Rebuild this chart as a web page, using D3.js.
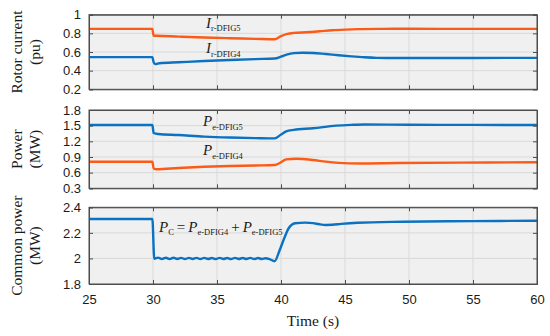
<!DOCTYPE html>
<html>
<head>
<meta charset="utf-8">
<script src="https://cdn.jsdelivr.net/npm/d3@7"></script>
<style>
  body { margin: 0; background: #fff; }
  svg { display: block; }
</style>
</head>
<body>
<div id="chart"></div>
<script>
// ---- data ----
var timeTicks = [25, 30, 35, 40, 45, 50, 55, 60];

// panel 1: rotor current (pu)
var rotorTicks = [0.2, 0.4, 0.6, 0.8, 1];
var irT5 = [25, 29.95, 30.05, 30.3, 32, 34, 36, 38, 39.5, 40, 40.5, 41, 42, 43, 44, 45, 46, 48, 50, 55, 60];
var ir5 = [0.848, 0.848, 0.775, 0.775, 0.765, 0.755, 0.748, 0.741, 0.736, 0.77, 0.795, 0.805, 0.812, 0.822, 0.833, 0.84, 0.845, 0.848, 0.849, 0.848, 0.848];
var irT4 = [25, 29.95, 30.05, 30.2, 30.5, 32, 34, 36, 38, 39.5, 40, 40.5, 41, 41.7, 42.5, 43.5, 44.5, 45.5, 46.5, 47.5, 49, 55, 60];
var ir4 = [0.545, 0.545, 0.49, 0.47, 0.48, 0.49, 0.503, 0.514, 0.524, 0.53, 0.55, 0.575, 0.588, 0.592, 0.59, 0.578, 0.565, 0.553, 0.543, 0.537, 0.535, 0.536, 0.537];

// panel 2: power (MW)
var powerTicks = [0.3, 0.6, 0.9, 1.2, 1.5, 1.8];
var peT5 = [25, 29.95, 30.05, 30.4, 32, 34, 36, 38, 39.5, 40, 40.4, 41, 42.5, 44.3, 45.5, 46.5, 50, 55, 60];
var pe5 = [1.512, 1.512, 1.36, 1.34, 1.32, 1.29, 1.272, 1.262, 1.256, 1.33, 1.39, 1.42, 1.45, 1.5, 1.515, 1.522, 1.517, 1.515, 1.513];
var peT4 = [25, 29.95, 30.05, 30.3, 32, 34, 36, 38, 39.5, 40, 40.4, 41.2, 42.5, 43.5, 44.5, 46.2, 49, 54, 60];
var pe4 = [0.81, 0.81, 0.68, 0.665, 0.69, 0.713, 0.728, 0.738, 0.745, 0.8, 0.855, 0.867, 0.842, 0.81, 0.788, 0.775, 0.785, 0.792, 0.8];

// panel 3: common power (MW)
var commonTicks = [1.8, 2, 2.2, 2.4];
var pcT = [25, 29.95, 30.1, 30.4, 30.7, 31.0, 31.3, 31.6, 31.9, 32.2, 32.5, 32.8, 33.1, 33.4, 33.7, 34.0, 34.3, 34.6, 34.9, 35.2, 35.5, 35.8, 36.1, 36.4, 36.7, 37.0, 37.3, 37.6, 37.9, 38.2, 38.5, 38.8, 39.1, 39.5, 39.9, 40.3, 40.6, 41.1, 41.9, 42.5, 43, 43.5, 44, 44.7, 46, 49.5, 55, 60];
var pc = [2.308, 2.308, 1.998, 2.006, 1.996, 2.005, 1.995, 2.005, 1.996, 2.004, 1.995, 2.004, 1.996, 2.004, 1.995, 2.004, 1.996, 2.003, 1.995, 2.004, 1.996, 2.003, 1.995, 2.004, 1.996, 2.003, 1.996, 2.004, 1.995, 2.003, 1.996, 2.002, 1.995, 1.978, 2.066, 2.17, 2.236, 2.275, 2.28, 2.276, 2.267, 2.262, 2.263, 2.27, 2.279, 2.287, 2.292, 2.295];

var blue = "#0b72c1", orange = "#fc5a17";
var serif = "'Liberation Serif', 'Times New Roman', serif";

var svg = d3.select("#chart").append("svg")
  .attr("width", 550).attr("height", 336)
  .style("font-family", "'Liberation Sans', Arial, sans-serif");

var left = 89, right = 537;
var x = d3.scaleLinear().domain([25, 60]).range([left, right]);

function panel(top, bottom, yTicks, series, label1, label2, showX, id) {
  var y = d3.scaleLinear().domain([yTicks[0], yTicks[yTicks.length - 1]]).range([bottom, top]);
  var g = svg.append("g");

  g.append("rect").attr("x", left).attr("y", top)
    .attr("width", right - left).attr("height", bottom - top)
    .attr("fill", "#f0f0f0");

  // grid
  g.selectAll(".gx").data(timeTicks.slice(1, -1)).enter().append("line")
    .attr("x1", d => x(d)).attr("x2", d => x(d))
    .attr("y1", top).attr("y2", bottom)
    .attr("stroke", "#d9d9d9").attr("stroke-width", 1);
  g.selectAll(".gy").data(yTicks.slice(1, -1)).enter().append("line")
    .attr("x1", left).attr("x2", right)
    .attr("y1", d => y(d)).attr("y2", d => y(d))
    .attr("stroke", "#d9d9d9").attr("stroke-width", 1);

  // clip + lines
  g.append("clipPath").attr("id", id).append("rect")
    .attr("x", left).attr("y", top).attr("width", right - left).attr("height", bottom - top);
  series.forEach(function(s) {
    var pts = s.t.map((t, i) => [t, s.v[i]]);
    g.append("path").datum(pts)
      .attr("clip-path", "url(#" + id + ")")
      .attr("fill", "none").attr("stroke", s.color).attr("stroke-width", 2.4)
      .attr("stroke-linejoin", "round")
      .attr("d", d3.line().curve(d3.curveMonotoneX).x(d => x(d[0])).y(d => y(d[1])));
  });

  // axes (ticks inward on all sides)
  g.append("g").attr("transform", "translate(" + left + ",0)")
    .call(d3.axisLeft(y).tickValues(yTicks).tickSize(-4).tickPadding(8).tickFormat(d3.format("")));
  g.append("g").attr("transform", "translate(" + right + ",0)")
    .call(d3.axisRight(y).tickValues(yTicks).tickSize(-4).tickFormat(""));
  g.append("g").attr("transform", "translate(0," + top + ")")
    .call(d3.axisTop(x).tickValues(timeTicks).tickSize(-4).tickFormat(""));
  g.append("g").attr("transform", "translate(0," + bottom + ")")
    .call(d3.axisBottom(x).tickValues(timeTicks).tickSize(-4).tickPadding(11)
      .tickFormat(showX ? d3.format("") : ""));
  g.selectAll(".domain").attr("stroke", "#4d4d4d");
  g.selectAll(".tick line").attr("stroke", "#4d4d4d");
  g.selectAll(".tick text").attr("fill", "#1a1a1a").style("font-size", "13px")
    .style("font-family", "'Liberation Sans', Arial, sans-serif");

  // border
  g.append("rect").attr("x", left).attr("y", top)
    .attr("width", right - left).attr("height", bottom - top)
    .attr("fill", "none").attr("stroke", "#4d4d4d").attr("stroke-width", 1);

  var cy = (top + bottom) / 2;
  g.append("text").attr("transform", "translate(22," + cy + ") rotate(-90)")
    .attr("text-anchor", "middle")
    .style("font-family", serif).style("font-size", "15.5px")
    .attr("fill", "#1a1a1a").text(label1);
  g.append("text").attr("transform", "translate(40," + cy + ") rotate(-90)")
    .attr("text-anchor", "middle")
    .style("font-family", serif).style("font-size", "15.5px")
    .attr("fill", "#1a1a1a").text(label2);
  return y;
}

panel(14.7, 89.3, rotorTicks,
  [{ t: irT5, v: ir5, color: orange }, { t: irT4, v: ir4, color: blue }],
  "Rotor current", "(pu)", false, "c1");
panel(110, 188.3, powerTicks,
  [{ t: peT5, v: pe5, color: blue }, { t: peT4, v: pe4, color: orange }],
  "Power", "(MW)", false, "c2");
panel(207.3, 284, commonTicks,
  [{ t: pcT, v: pc, color: blue }],
  "Common power", "(MW)", true, "c3");

// x label
svg.append("text").attr("x", 313).attr("y", 326).attr("text-anchor", "middle")
  .style("font-family", serif).style("font-size", "15.5px")
  .attr("fill", "#1a1a1a").text("Time (s)");

// annotations: italic symbol + small subscript
function annot(px, py, parts) {
  var t = svg.append("text").attr("x", px).attr("y", py)
    .style("font-family", serif).attr("fill", "#1a1a1a");
  parts.forEach(function(p) {
    var s = t.append("tspan").text(p.text);
    if (p.sub) s.style("font-size", "8.5px").attr("dy", 3.8);
    else s.style("font-size", "15px").attr("dy", p.after ? -3.8 : 0);
    if (p.italic) s.style("font-style", "italic");
  });
}

annot(206, 27.5, [{ text: "I", italic: true }, { text: "r-DFIG5", sub: true }]);
annot(206, 53, [{ text: "I", italic: true }, { text: "r-DFIG4", sub: true }]);
annot(203, 126, [{ text: "P", italic: true }, { text: "e-DFIG5", sub: true }]);
annot(203, 155, [{ text: "P", italic: true }, { text: "e-DFIG4", sub: true }]);
annot(159, 231.5, [
  { text: "P", italic: true }, { text: "C", sub: true },
  { text: "\u2009=\u2009", after: true }, { text: "P", italic: true }, { text: "e-DFIG4", sub: true },
  { text: "\u2009+\u2009", after: true }, { text: "P", italic: true }, { text: "e-DFIG5", sub: true }
]);
</script>
</body>
</html>
